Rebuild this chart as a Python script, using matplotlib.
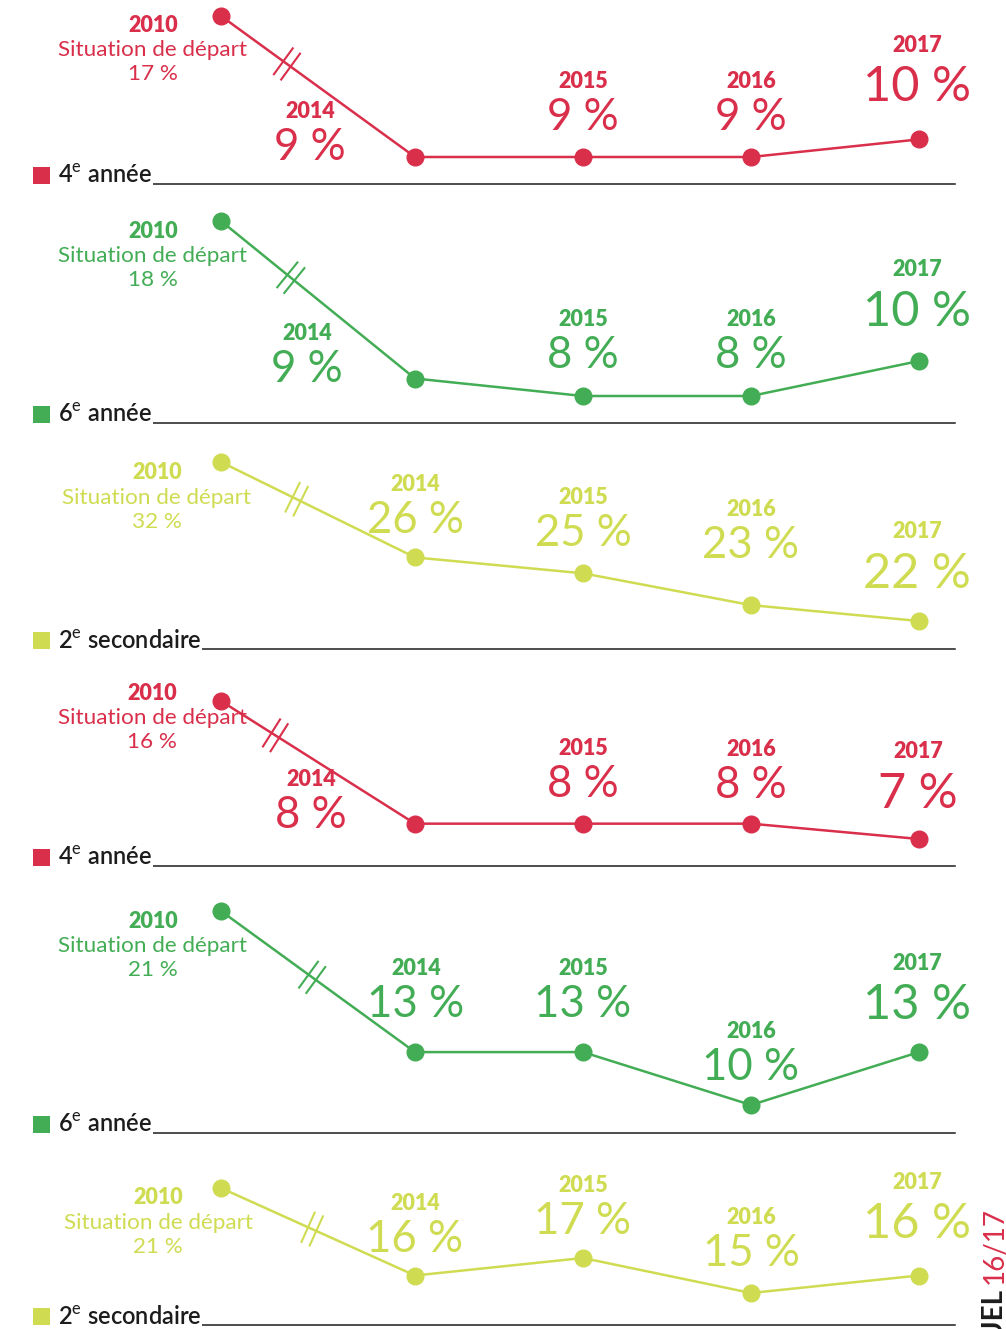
import numpy as np
import matplotlib
matplotlib.use("Agg")
import matplotlib.pyplot as plt
from matplotlib.lines import Line2D
from matplotlib.patches import Rectangle

plt.rcParams['font.family'] = ['Lato', 'DejaVu Sans']
plt.rcParams['mathtext.fontset'] = 'custom'
plt.rcParams['mathtext.rm'] = 'Lato'

# Data
YEARS = ['2010', '2014', '2015', '2016', '2017']
START_LABEL = 'Situation de départ'
LEVELS = ['4$^{\\rm e}$ année', '6$^{\\rm e}$ année', '2$^{\\rm e}$ secondaire',
          '4$^{\\rm e}$ année', '6$^{\\rm e}$ année', '2$^{\\rm e}$ secondaire']
RATES = [
    [17, 9, 9, 9, 10],
    [18, 9, 8, 8, 10],
    [32, 26, 25, 23, 22],
    [16, 8, 8, 8, 7],
    [21, 13, 13, 10, 13],
    [21, 16, 17, 15, 16],
]

RED, GREEN, LIME = '#d92f4b', '#43ad55', '#cfdc52'
COLORS = [RED, GREEN, LIME, RED, GREEN, LIME]
INK = '#1c1c1c'

# Layout (pixels, measured from top of the 1006x1329 canvas)
W, H = 1006, 1329
X_START, STEP, FIRST_GAP = 221, 168, 194
TOP_PX = [16, 221, 462, 701, 911, 1188]      # highest point of each panel
LOW_PX = [157, 396, 621, 839, 1105, 1293]    # lowest point of each panel
BASE_PX = [184, 423, 649, 866, 1133, 1325]   # rule under each panel
BREAK_AT = [0.34, 0.36, 0.39, 0.28, 0.47, 0.47]
START_DX = [-68, -68, -64, -69, -68, -63]
START_DY = [-9, -10, -11, 8, -10, -10]       # 2010 year line relative to point (px, up +)
# value-label offsets (dx, dy up) for 2014..2017
LABEL_OFF = [
    [(-105, 10), (0, 40), (0, 40), (-2, 52)],
    [(-108, 9), (0, 40), (0, 40), (-2, 49)],
    [(0, 37), (0, 40), (0, 60), (-2, 47)],
    [(-104, 8), (0, 39), (0, 38), (-1, 45)],
    [(1, 48), (0, 48), (0, 37), (-2, 47)],
    [(0, 36), (0, 36), (0, 39), (-2, 51)],
]

xs = np.arange(len(YEARS), dtype=float)
xs[1:] += FIRST_GAP / STEP - 1

fig = plt.figure(figsize=(W / 100, H / 100), dpi=100)


def fy(py):
    return 1 - py / H


for i, vals in enumerate(RATES):
    col = COLORS[i]
    ax = fig.add_axes([0, fy(LOW_PX[i]), 1, (LOW_PX[i] - TOP_PX[i]) / H])
    ax.set_xlim(-X_START / STEP, (W - X_START) / STEP)
    ax.set_ylim(min(vals), max(vals))
    ax.axis('off')
    ax.plot(xs, vals, color=col, lw=1.8, marker='o', ms=12, clip_on=False, zorder=3)

    # break mark on first segment
    p0 = ax.transData.transform((xs[0], vals[0]))
    p1 = ax.transData.transform((xs[1], vals[1]))
    d = (p1 - p0) / np.hypot(*(p1 - p0))
    nrm = np.array([-d[1], d[0]])
    c = p0 + BREAK_AT[i] * (p1 - p0)
    inv = fig.transFigure.inverted()
    for s in (-4.5, 4.5):
        cc = c + s * d
        a = inv.transform(cc - 16 * nrm)
        b = inv.transform(cc + 16 * nrm)
        fig.add_artist(Line2D([a[0], b[0]], [a[1], b[1]], color=col, lw=1.5))

    # 2010 block
    dy0 = START_DY[i]
    ax.annotate(YEARS[0], (xs[0], vals[0]), xytext=(START_DX[i], dy0),
                textcoords='offset pixels', ha='center', va='center',
                fontsize=15.5, fontweight='heavy', color=col)
    ax.annotate(START_LABEL, (xs[0], vals[0]), xytext=(START_DX[i], dy0 - 25),
                textcoords='offset pixels', ha='center', va='center',
                fontsize=16.2, color=col)
    ax.annotate(f'{vals[0]} %', (xs[0], vals[0]), xytext=(START_DX[i], dy0 - 49),
                textcoords='offset pixels', ha='center', va='center',
                fontsize=16.2, color=col)

    # other years
    for j in range(1, len(YEARS)):
        dx, dy = LABEL_OFF[i][j - 1]
        last = j == len(YEARS) - 1
        ax.annotate(f'{vals[j]} %', (xs[j], vals[j]), xytext=(dx, dy),
                    textcoords='offset pixels', ha='center', va='center',
                    fontsize=35 if last else 31.5, color=col)
        ax.annotate(YEARS[j], (xs[j], vals[j]), xytext=(dx, dy + (42 if last else 36)),
                    textcoords='offset pixels', ha='center', va='center',
                    fontsize=15.5, fontweight='heavy', color=col)

    # legend square, label and rule
    b = BASE_PX[i]
    fig.add_artist(Rectangle((33 / W, fy(b)), 17 / W, 17 / H, color=col, lw=0))
    fig.add_artist(Line2D([58 / W, 955 / W], [fy(b), fy(b)], color=INK, lw=1.1, zorder=1))
    fig.text(58 / W, fy(b) + 1 / H, LEVELS[i], fontsize=17, fontweight='semibold',
             color=INK, ha='left', va='baseline', zorder=5,
             bbox=dict(facecolor='white', edgecolor='none', pad=0.5))

# side caption, partly cut by the page edge as in the source page
fig.text(995 / W, fy(1284), '16/17', rotation=90, ha='center', va='bottom',
         fontsize=20, color=RED)
fig.text(995 / W, fy(1290), 'ANNUEL', rotation=90, ha='center', va='top',
         fontsize=20, fontweight='bold', color=INK)

fig.savefig('out.png', dpi=100)
